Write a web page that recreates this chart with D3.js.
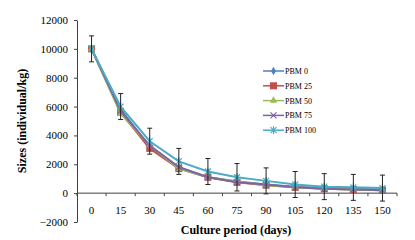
<!DOCTYPE html>
<html>
<head>
<meta charset="utf-8">
<script src="https://cdn.jsdelivr.net/npm/d3@7"></script>
<style>
  body { margin: 0; background: #fff; }
  text { font-family: "Liberation Serif", "Times New Roman", serif; }
</style>
</head>
<body>
<div id="chart"></div>
<script>
const days = [0, 15, 30, 45, 60, 75, 90, 105, 120, 135, 150];
const seriesNames = ["PBM 0", "PBM 25", "PBM 50", "PBM 75", "PBM 100"];
const pbm0 = [10000, 5800, 3200, 1800, 1100, 800, 600, 450, 350, 300, 250];
const pbm25 = [10000, 5600, 3100, 1700, 1100, 750, 550, 400, 300, 250, 200];
const pbm50 = [10000, 5500, 3300, 1700, 1100, 800, 550, 400, 300, 250, 200];
const pbm75 = [10000, 5700, 3300, 1800, 1100, 750, 600, 400, 300, 250, 200];
const pbm100 = [10000, 6000, 3600, 2200, 1500, 1100, 850, 600, 450, 400, 350];
const pbm100Err = [900, 900, 900, 900, 900, 950, 900, 900, 900, 900, 900];
const yTicks = [-2000, 0, 2000, 4000, 6000, 8000, 10000, 12000];

const colors = ["#4F81BD", "#C0504D", "#9BBB59", "#8064A2", "#4BACC6"];
const allSeries = [pbm0, pbm25, pbm50, pbm75, pbm100];

const width = 415, height = 240;
const svg = d3.select("#chart").append("svg")
    .attr("width", width)
    .attr("height", height);

const x = d3.scaleBand().domain(days).range([77, 397]);
const y = d3.scaleLinear().domain([-2000, 12000]).range([222, 20]);
const cx = d => x(d) + x.bandwidth() / 2;

// y axis
const yAxis = svg.append("g")
    .attr("transform", "translate(77,0)")
    .call(d3.axisLeft(y).tickValues(yTicks).tickFormat(d3.format("d")).tickSize(3).tickSizeOuter(0).tickPadding(6));
yAxis.select(".domain").attr("stroke", "#404040");
yAxis.selectAll(".tick line").attr("stroke", "#404040");
yAxis.selectAll("text").attr("font-size", 11).attr("fill", "#000");

// x axis at zero
const xAxis = svg.append("g").attr("transform", `translate(0,${y(0)})`);
xAxis.append("line").attr("x1", 77).attr("x2", 397).attr("stroke", "#404040");
xAxis.selectAll("line.tk").data(days.concat(["end"])).enter().append("line")
    .attr("class", "tk")
    .attr("x1", (d, i) => 77 + i * x.bandwidth())
    .attr("x2", (d, i) => 77 + i * x.bandwidth())
    .attr("y1", 0).attr("y2", 3)
    .attr("stroke", "#404040");
xAxis.selectAll("text").data(days).enter().append("text")
    .attr("x", d => cx(d))
    .attr("y", 21)
    .attr("text-anchor", "middle")
    .attr("font-size", 11)
    .text(d => d);

// axis titles
svg.append("text")
    .attr("x", 236).attr("y", 234)
    .attr("text-anchor", "middle")
    .attr("font-size", 12).attr("font-weight", "bold")
    .text("Culture period (days)");
svg.append("text")
    .attr("transform", "translate(26,121) rotate(-90)")
    .attr("text-anchor", "middle")
    .attr("font-size", 12).attr("font-weight", "bold")
    .text("Sizes (individual/kg)");

// markers
function drawMarker(g, i, px, py) {
    const c = colors[i];
    if (i === 0) {
        g.append("path").attr("d", d3.symbol(d3.symbolDiamond, 22)()).attr("transform", `translate(${px},${py})`).attr("fill", c);
    } else if (i === 1) {
        g.append("rect").attr("x", px - 3.5).attr("y", py - 3.5).attr("width", 7).attr("height", 7).attr("fill", c);
    } else if (i === 2) {
        g.append("path").attr("d", d3.symbol(d3.symbolTriangle, 24)()).attr("transform", `translate(${px},${py})`).attr("fill", c);
    } else if (i === 3) {
        g.append("path").attr("d", `M${px - 3},${py - 3}L${px + 3},${py + 3}M${px - 3},${py + 3}L${px + 3},${py - 3}`)
            .attr("stroke", c).attr("stroke-width", 1.2);
    } else {
        g.append("path").attr("d", `M${px - 3},${py - 3}L${px + 3},${py + 3}M${px - 3},${py + 3}L${px + 3},${py - 3}M${px},${py - 4}L${px},${py + 4}`)
            .attr("stroke", c).attr("stroke-width", 1.2);
    }
}

const line = d3.line().x((d, j) => cx(days[j])).y(d => y(d));

allSeries.forEach((vals, i) => {
    const g = svg.append("g");
    g.append("path").datum(vals)
        .attr("d", line)
        .attr("fill", "none")
        .attr("stroke", colors[i])
        .attr("stroke-width", 2);
    vals.forEach((v, j) => drawMarker(g, i, cx(days[j]), y(v)));
});

// error bars on PBM 100
const eb = svg.append("g").attr("stroke", "#222").attr("stroke-width", 1);
pbm100.forEach((v, j) => {
    const px = cx(days[j]);
    const e = pbm100Err[j];
    eb.append("line").attr("x1", px).attr("x2", px).attr("y1", y(v + e)).attr("y2", y(v - e));
    eb.append("line").attr("x1", px - 2.5).attr("x2", px + 2.5).attr("y1", y(v + e)).attr("y2", y(v + e));
    eb.append("line").attr("x1", px - 2.5).attr("x2", px + 2.5).attr("y1", y(v - e)).attr("y2", y(v - e));
});

// legend
const legend = svg.append("g");
seriesNames.forEach((name, i) => {
    const ly = 71 + i * 14.8;
    legend.append("line").attr("x1", 263).attr("x2", 284).attr("y1", ly).attr("y2", ly)
        .attr("stroke", colors[i]).attr("stroke-width", 1.5);
    drawMarker(legend, i, 273.5, ly);
    legend.append("text").attr("x", 285).attr("y", ly + 3)
        .attr("font-size", 8).text(name);
});
</script>
</body>
</html>
